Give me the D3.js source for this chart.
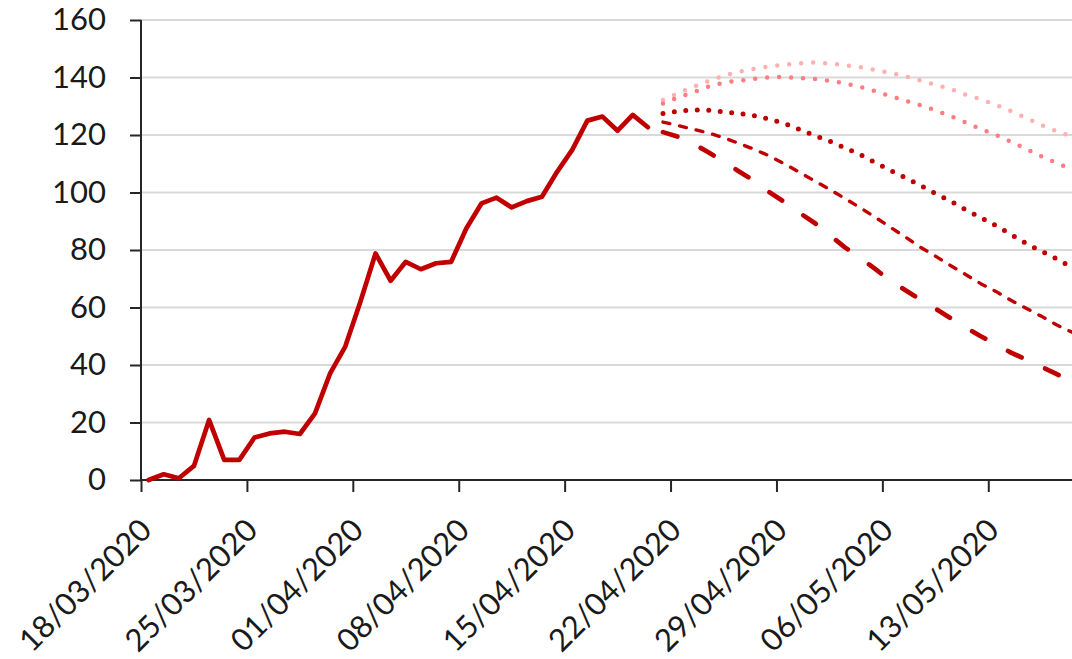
<!DOCTYPE html>
<html><head><meta charset="utf-8">
<script src="https://cdn.jsdelivr.net/npm/d3@7"></script>
<style>
html,body{margin:0;padding:0;background:#fff;}
svg{display:block;}
text{font-family:Lato,"Open Sans",sans-serif;}
</style>
</head><body>
<svg id="chart" width="1072" height="659"></svg>
<script>
// ---- data ----
const actualValues = [0, 2, 0.6, 4.9, 20.9, 7, 7, 14.8, 16.2, 16.8, 16, 23.2, 37.1, 46.4, 62, 78.8, 69.3, 75.9, 73.3, 75.4, 75.9,
  87.5, 96.2, 98.2, 94.8, 97, 98.5, 107.2, 114.8, 125, 126.4, 121.5, 127, 122.7];
const projectionStartDay = 34;
const scenarioLightest = [132.2, 134.5, 136.8, 138.8, 140.6, 142, 143, 143.8, 144.5, 144.9, 145.2, 144.9, 144.3, 143.6,
  142.7, 141.6, 140.4, 139, 137.5, 136, 134, 132.4, 130.5, 128.3, 126, 123.5, 121.3, 119.5];
const scenarioPink = [131, 133.1, 134.8, 136.8, 138.2, 138.9, 139.5, 140.1, 140.2, 139.8, 139.5, 138.9, 138, 136.8,
  135.3, 133.6, 132, 130.4, 128.6, 126.6, 124.4, 122.1, 120, 117.7, 115.2, 112.6, 110.3, 108];
const scenarioDotted = [127.5, 128.3, 128.7, 128.6, 128.1, 127.5, 126.7, 125.6, 124.1, 122, 119.9, 117.9, 115.6, 113.3,
  110.5, 107.8, 105.2, 102.5, 99.7, 97, 94, 91.3, 88.5, 85.4, 82.3, 79.6, 77, 74];
const scenarioDashed = [124.5, 123.3, 122, 120.7, 119.1, 117.1, 115.1, 112.8, 110, 107.1, 104.1, 101.1, 98, 94.8,
  91.5, 88, 84.6, 81, 77.9, 74.6, 71.5, 68.3, 65.6, 62.5, 59.7, 57, 54, 51.5];
const scenarioLongDash = [121, 119.4, 117, 114, 110.7, 107.4, 104.2, 100.2, 96.8, 93, 89.5, 85.3, 81, 77.4,
  73.5, 69.4, 66.1, 62.8, 59.6, 56.3, 53.1, 50, 47.3, 44.3, 41.9, 39.4, 36.9, 34.2];
const xTickDays = [0, 7, 14, 21, 28, 35, 42, 49, 56];
const xTickLabels = ["18/03/2020", "25/03/2020", "01/04/2020", "08/04/2020", "15/04/2020",
  "22/04/2020", "29/04/2020", "06/05/2020", "13/05/2020"];
const yTicks = [0, 20, 40, 60, 80, 100, 120, 140, 160];

(function () {
  const svg = d3.select("#chart");
  const plotLeft = 141, plotTop = 20, plotBottom = 480, plotRight = 1072, dayW = 15.13, nDays = 63;
  const x = d3.scaleLinear().domain([0, nDays]).range([plotLeft, plotLeft + nDays * dayW]);
  const y = d3.scaleLinear().domain([0, 160]).range([plotBottom, plotTop]);

  // gridlines
  svg.append("g").selectAll("line").data(yTicks.filter(d => d > 0)).join("line")
    .attr("x1", plotLeft).attr("x2", plotRight).attr("y1", d => y(d)).attr("y2", d => y(d))
    .attr("stroke", "#d9d9d9").attr("stroke-width", 2);

  // y axis
  const yAxis = d3.axisLeft(y).tickValues(yTicks).tickSize(11).tickPadding(24).tickFormat(d3.format("d"));
  const gy = svg.append("g").attr("transform", `translate(${plotLeft},0)`).call(yAxis);
  gy.select(".domain").attr("stroke", "#262626").attr("stroke-width", 2).attr("d", `M0,${y(160)}V${plotBottom}`);
  gy.selectAll(".tick line").attr("stroke", "#262626").attr("stroke-width", 2);
  gy.selectAll(".tick text").attr("font-size", 31).attr("fill", "#1a1a1a").attr("font-family", "Lato");

  // x axis
  const xAxis = d3.axisBottom(x).tickValues(xTickDays).tickSize(12).tickFormat((d, i) => xTickLabels[i]);
  const gx = svg.append("g").attr("transform", `translate(0,${plotBottom})`).call(xAxis);
  gx.select(".domain").attr("stroke", "#262626").attr("stroke-width", 2).attr("d", `M${plotLeft},0H${plotRight}`);
  gx.selectAll(".tick line").attr("stroke", "#262626").attr("stroke-width", 2);
  gx.selectAll(".tick text")
    .attr("font-size", 31).attr("fill", "#1a1a1a").attr("font-family", "Lato")
    .attr("text-anchor", "end").attr("dy", null).attr("y", null)
    .attr("transform", "translate(12,52) rotate(-45)");

  // lines
  const line = d3.line().x(d => x(d.day + 0.5)).y(d => y(d.v));
  const toPts = (arr, start) => arr.map((v, i) => ({ day: start + i, v }));
  const plot = svg.append("g");
  const series = [
    { data: toPts(scenarioLightest, projectionStartDay), color: "#ffb0b0", width: 4.5, dash: "0 12" },
    { data: toPts(scenarioPink, projectionStartDay), color: "#ff7c80", width: 4.5, dash: "0 12" },
    { data: toPts(scenarioDotted, projectionStartDay), color: "#c00000", width: 5, dash: "0 11.5" },
    { data: toPts(scenarioDashed, projectionStartDay), color: "#c00000", width: 3.4, dash: "7 10" },
    { data: toPts(scenarioLongDash, projectionStartDay), color: "#c00000", width: 4.7, dash: "15 26" },
    { data: toPts(actualValues, 0), color: "#c00000", width: 4.7, dash: null }
  ];
  series.forEach(s => {
    plot.append("path").attr("d", line(s.data)).attr("fill", "none")
      .attr("stroke", s.color).attr("stroke-width", s.width)
      .attr("stroke-linecap", "round").attr("stroke-linejoin", "round")
      .attr("stroke-dasharray", s.dash);
  });
})();
</script>
</body></html>
